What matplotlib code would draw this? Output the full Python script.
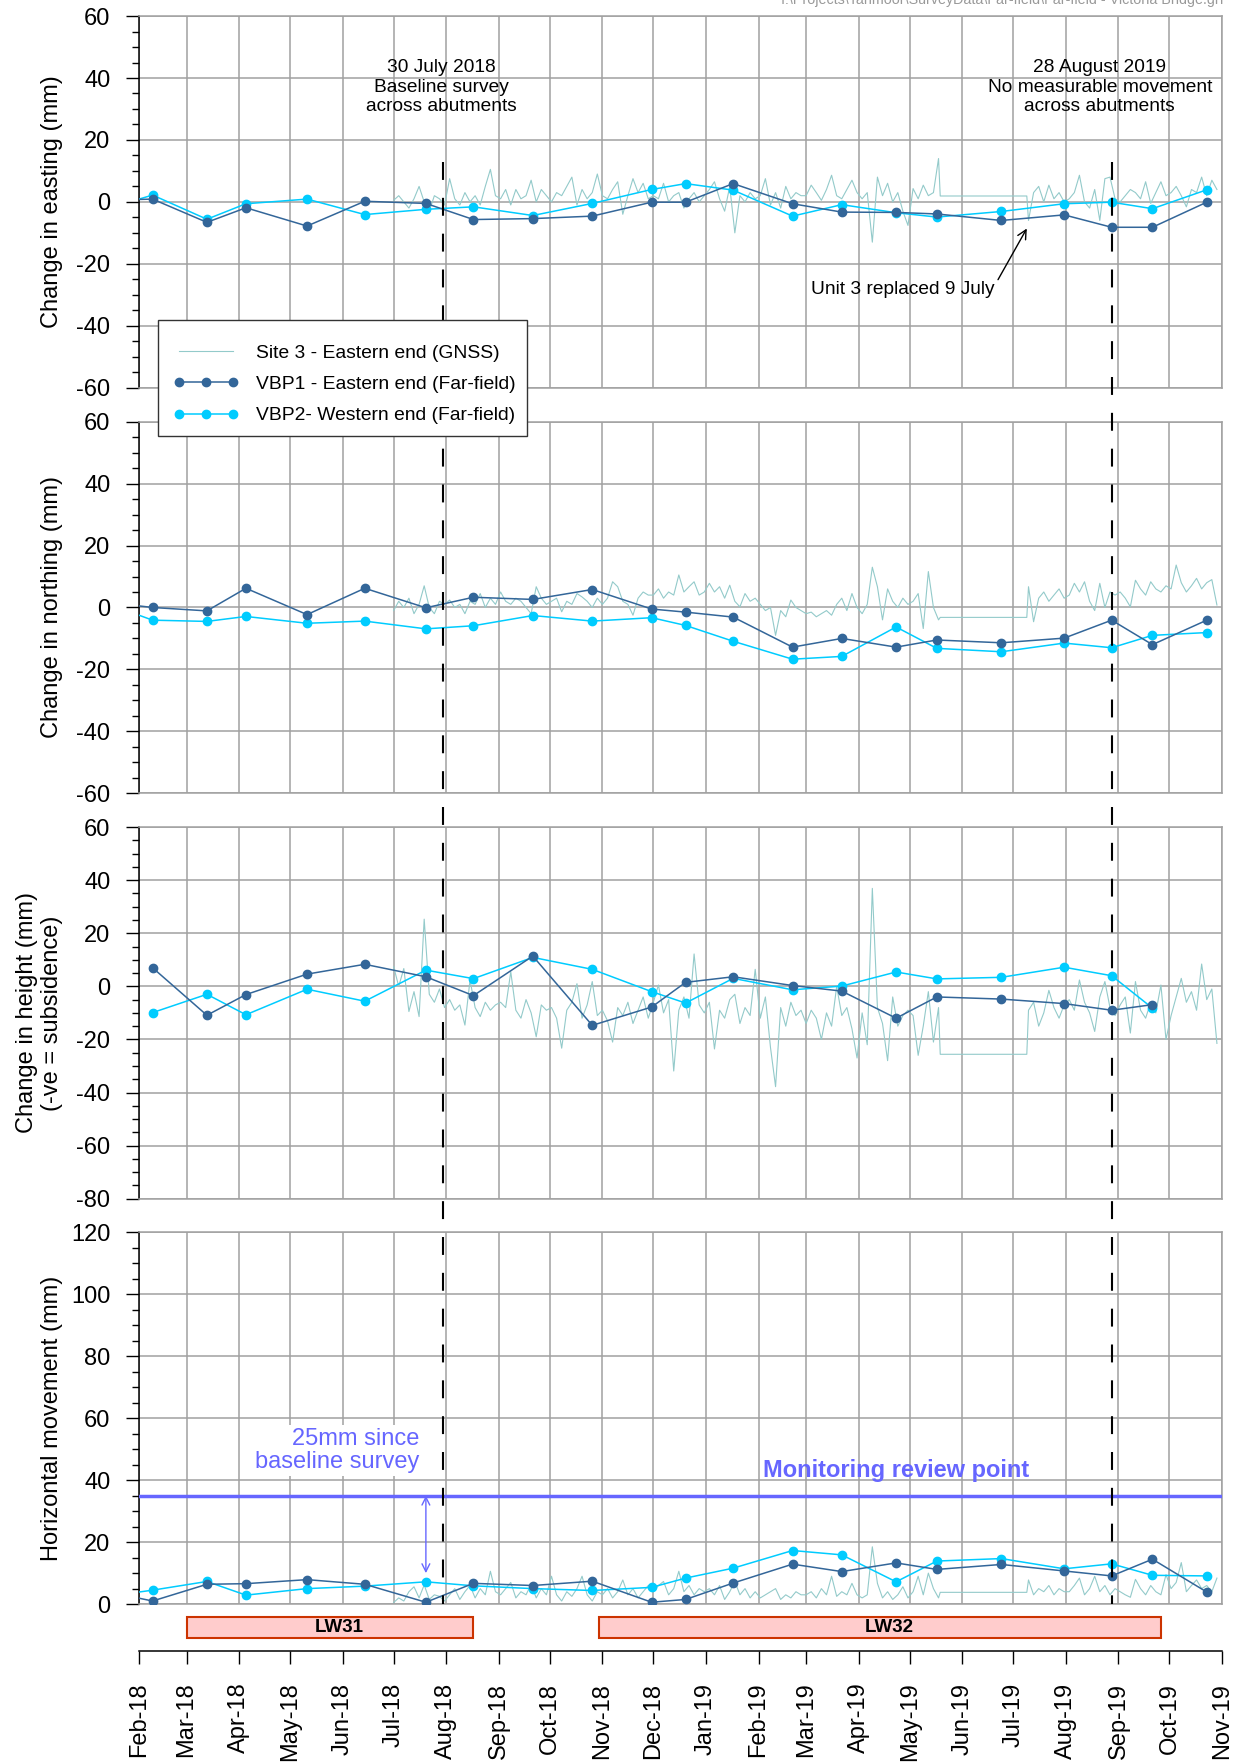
import numpy as np
import pandas as pd
import matplotlib
matplotlib.use('Agg')
import matplotlib.pyplot as plt
import matplotlib.dates as mdates
from matplotlib.lines import Line2D
from matplotlib.patches import Rectangle
from matplotlib.ticker import MultipleLocator
from matplotlib.transforms import blended_transform_factory

plt.rcParams['font.family'] = ['Liberation Sans', 'DejaVu Sans']
plt.rcParams['axes.unicode_minus'] = False

# Far-field survey dates (first one sits before the plotted window)
survey_dates = pd.to_datetime([
    '2018-01-10', '2018-02-09', '2018-03-13', '2018-04-05', '2018-05-11',
    '2018-06-14', '2018-07-20', '2018-08-17', '2018-09-21', '2018-10-26',
    '2018-11-30', '2018-12-20', '2019-01-17', '2019-02-21', '2019-03-22',
    '2019-04-23', '2019-05-17', '2019-06-24', '2019-07-31', '2019-08-28',
    '2019-09-21', '2019-10-23'])

vbp1_east = [0.5, 0.9, -6.6, -1.9, -7.8, 0.2, -0.5, -5.7, -5.4, -4.6, -0.1,
             -0.1, 5.9, -0.6, -3.3, -3.4, -3.9, -6.0, -4.2, -8.2, -8.2, -0.1]
vbp2_east = [-2.7, 2.2, -5.6, -0.6, 0.9, -4.1, -2.4, -1.6, -4.4, -0.5, 4.0,
             5.9, 3.8, -4.6, -0.9, -3.5, -4.9, -3.1, -0.6, -0.1, -2.2, 3.9]

vbp1_north = [1.9, 0.0, -1.1, 6.2, -2.3, 6.2, -0.1, 3.3, 2.6, 5.8, -0.5,
              -1.5, -3.1, -12.8, -10.0, -12.8, -10.5, -11.4, -9.9, -4.1, -12.0, -4.1]
vbp2_north = [1.9, -4.1, -4.5, -2.9, -5.1, -4.4, -6.9, -5.9, -2.6, -4.4, -3.3,
              -5.8, -10.9, -16.7, -15.8, -6.3, -13.2, -14.3, -11.5, -13.0, -9.0, -8.1]

vbp1_height = [np.nan, 7.0, -10.9, -3.1, 4.6, 8.3, 3.6, -3.5, 11.4, -14.7, -7.8,
               1.5, 3.6, 0.3, -1.8, -12.0, -4.0, -4.8, -6.5, -9.0, -6.9, np.nan]
vbp2_height = [np.nan, -9.9, -3.0, -10.7, -1.1, -5.6, 6.1, 2.9, 10.9, 6.4, -2.0,
               -6.3, 3.0, -1.3, 0.1, 5.4, 2.8, 3.4, 7.2, 4.0, -8.2, np.nan]

vbp1_horiz = [4.4, 1.0, 6.4, 6.6, 7.9, 6.4, 0.6, 6.7, 6.0, 7.4, 0.6,
              1.5, 6.8, 12.9, 10.5, 13.3, 11.2, 12.8, 10.7, 9.1, 14.5, 3.9]
vbp2_horiz = [2.25, 4.5, 7.3, 2.9, 5.0, 5.8, 7.2, 5.9, 5.0, 4.4, 5.4,
              8.4, 11.6, 17.3, 15.9, 7.2, 13.9, 14.7, 11.4, 13.0, 9.3, 9.1]

# GNSS Site 3, sampled every 3 days; unit offline between the two blocks
gnss_start_a = '2018-07-01'
gnss_gap_dates = ['2019-05-19', '2019-07-09']
gnss_start_b = '2019-07-10'

gnss_east_a = [0.5, 2, 0, -2, 1, 5, 0, -3, 2, 1, -1,
               7.5, 1, -1, 3, 0, 2, -1, 5, 10.5, 2,
               1, 4, -1, 4, 1, 2, 7, 0, 4, 2,
               0, 3, 2, 5, 8, -1, 4, 1, 3, 9,
               2, 1, 4, 6.5, -4, 2, 7.5, 3, 6, 1,
               2, 1, 6, 0, 2, 3, -2, 1, 3, 0, 2,
               4, 6.5, 1, -3, 5, -10, 2, 0, 3, 1,
               2, 7.5, -1, 3, -2, 5, 1, 3, 2,
               2, 5.4, 3, 0.5, 4, 8.6, 2, 1, 4, 7, 3,
               1, 3, -13, 8, 2, 6, 0, 3, -3, -7.6,
               4.3, 1, 5.4, 2, 3, 14]
gnss_east_gap = 1.9
gnss_east_b = [-6, 3, 5, 0, 5.4, 1, 3, 0,
               1, 3, 8.6, 0, -2, 4, -6, 7.5, 8, 1,
               0, 2, 4, 3, 1, 6.5, -0.5, 3, 6.5, 2,
               3, 5, 2, -1.6, 4, 3, 8, 2, 7, 4]

gnss_north_a = [-1, 2, 0, 3, -2, 1, 7, 0, -2, 2, 1,
                2.4, 0, 1, -2, 2, 1, 4.5, 0, 3, 1,
                5, 2, 1, 3, 2, 0, -2, 6.7, 3, 1,
                2, 3, -1.4, 2, 1, 4.5, 3.4, 2, 0, 3,
                1, 3, 8.3, 6.7, 2, 1, -2.5, 3, 5, 4,
                4, 6, 3, 5, 4, 10.5, 5, 6.7, 8.3, 4, 5,
                7.8, 5, 6.7, 3, 7.2, 2, 0.2, 4.5, 2, 3,
                1, -1, 0, -9, -1, -3, 2.4, 0, -1,
                -2, -1.5, -3, -2, -1, -2.5, 1, 3, -1, 4.5, 0,
                -2, 1, 13, 6.7, -4, 6, 2, 0, 3, 1,
                2, 4.5, -6.8, 11.6, 0, -4]
gnss_north_gap = -3.2
gnss_north_b = [6.7, -4.6, 3, 5, 2, 4, 6, 3,
                4, 7.8, 5, 8.3, 2, -1, 7.8, 0, 5, 4,
                5, 3, 0.2, 8.8, 6, 4, 8.3, 6, 5, 7,
                6, 13.7, 8, 5, 7, 9.4, 6, 8, 9, 0.8]

gnss_height_a = [7.4, 0, 6.7, -9.5, -2, -11.4, 25.3, -3, -6, -1, -8,
                 -5, -9, -7, -14.6, 2.4, -8, -11.4, -6, -9, -7,
                 -6, -8, 5.5, -9, -12, -5, -10, -19, -7, -9,
                 -8, -12, -23.3, -9, -6, 1, -12, -7, 1.8, -11,
                 -9, -13, -21, -8, -11, -6, -14, -9, -4, -12,
                 -6, 0.5, -10, -5, -31.9, -9, -4, -12, 12.2, -7, -10,
                 -6, -23.6, -9, -12, -5, -3, -14, -8, -11, 6.4,
                 -12, -4, -23, -37.8, -8, -15, -6, -11, -9,
                 -14, -9, -12, -20, -10, -15, 0, -11, -8, -16, -27,
                 -10, -22, 36.9, -8, -14, -28, -4, -15, -11, -9,
                 -11, -26, -15, -2, -21, -8]
gnss_height_gap = -25.6
gnss_height_b = [-9, -6, -15, -10, -1.5, -8, -12, -7,
                 -5, -9, 2.4, -6, -10, -17, -4, 1.8, -8, -11,
                 -7, -4, -17.6, 1.8, -9, -12, -6, -10, 0.5, -20,
                 -11, -4, 3, -6, -2, -9, 8.4, -5, -1, -21.5]

gnss_horiz_a = [0.5, 2, 1, 4, 5.6, 2, 6.2, 1.5, 3, 2.5, 1,
                3, 5, 1.5, 4, 6, 2, 5, 3, 10.6, 4,
                3, 5, 7, 2, 4, 3, 6.4, 2, 5, 3,
                9, 3, 1, 4, 2.5, 5, 9, 3, 1, 4,
                3, 5, 2, 4, 7.8, 3, 5, 2, 4, 6,
                4, 6, 7.3, 3, 5, 10.6, 4, 6, 3, 5, 4,
                5, 3, 6, 1.5, 4, 7.3, 3, 5, 2, 4,
                2, 3, 4, 5, 1.5, 3, 2, 4, 3,
                3, 4, 2, 5, 3, 9, 2.5, 4, 3, 6.7, 3,
                2, 3, 18.5, 6.7, 2, 4, 1.5, 3, 5.6, 2,
                4, 9, 3, 10, 5, 2]
gnss_horiz_gap = 3.8
gnss_horiz_b = [7.8, 3, 5, 4, 6, 3, 5, 4,
                4, 6, 8.4, 3, 5, 9, 4, 6, 3, 5,
                4, 3, 2.2, 8, 5, 3, 6, 4, 3, 9.5,
                5, 7, 13.4, 4, 6, 7.8, 5, 6, 4, 8.4]

# Longwall extraction periods
longwalls = ['LW31', 'LW32']
lw_start = pd.to_datetime(['2018-03-01', '2018-10-30'])
lw_end = pd.to_datetime(['2018-08-17', '2019-09-26'])

baseline_date = pd.Timestamp('2018-07-30')
check_date = pd.Timestamp('2019-08-28')
review_level = 35
x_min, x_max = pd.Timestamp('2018-02-01'), pd.Timestamp('2019-11-01')


def gnss_series(vals_a, gap_val, vals_b):
    d_a = pd.date_range(gnss_start_a, periods=len(vals_a), freq='3D')
    d_b = pd.date_range(gnss_start_b, periods=len(vals_b), freq='3D')
    dates = d_a.append(pd.DatetimeIndex(gnss_gap_dates)).append(d_b)
    return dates, list(vals_a) + [gap_val, gap_val] + list(vals_b)


C_GNSS = '#93CACA'
C_VBP1 = '#336699'
C_VBP2 = '#00CCFF'
C_GRID = '#A0A0A0'
C_REVIEW = '#6666FF'
W, H = 1240, 1763

fig = plt.figure(figsize=(12.4, 17.63), dpi=100)
left, width = 0.1121, 0.8734
panel_specs = [
    (0.78009, gnss_series(gnss_east_a, gnss_east_gap, gnss_east_b), vbp1_east, vbp2_east,
     (-60, 60), 'Change in easting (mm)'),
    (0.55003, gnss_series(gnss_north_a, gnss_north_gap, gnss_north_b), vbp1_north, vbp2_north,
     (-60, 60), 'Change in northing (mm)'),
    (0.32008, gnss_series(gnss_height_a, gnss_height_gap, gnss_height_b), vbp1_height, vbp2_height,
     (-80, 60), 'Change in height (mm)\n(-ve = subsidence)'),
    (0.09013, gnss_series(gnss_horiz_a, gnss_horiz_gap, gnss_horiz_b), vbp1_horiz, vbp2_horiz,
     (0, 120), 'Horizontal movement (mm)'),
]

axes = []
for bottom, (g_dates, g_vals), v1, v2, ylim, ylabel in panel_specs:
    ax = fig.add_axes([left, bottom, width, 0.2108], sharex=axes[0] if axes else None)
    g_line, = ax.plot(g_dates, g_vals, color=C_GNSS, lw=0.8, zorder=2)
    v2_line, = ax.plot(survey_dates, v2, color=C_VBP2, lw=1.1, marker='o', ms=6, zorder=3)
    v1_line, = ax.plot(survey_dates, v1, color=C_VBP1, lw=1.1, marker='o', ms=6, zorder=4)
    ax.set_ylim(*ylim)
    ax.yaxis.set_major_locator(MultipleLocator(20))
    ax.yaxis.set_minor_locator(MultipleLocator(5))
    ax.tick_params(axis='y', which='major', direction='out', length=9.7, width=1,
                   labelsize=17, pad=11)
    ax.tick_params(axis='y', which='minor', direction='out', length=4.8, width=1)
    ax.tick_params(axis='x', which='both', length=0, labelbottom=False)
    ax.grid(True, which='major', color=C_GRID, lw=1.1)
    ax.set_axisbelow(True)
    for side in ('top', 'right', 'bottom'):
        ax.spines[side].set_color(C_GRID)
        ax.spines[side].set_linewidth(1.1)
    ax.spines['left'].set_color('black')
    ax.spines['left'].set_linewidth(1.1)
    ax.set_ylabel(ylabel, fontsize=17)
    ax.yaxis.set_label_coords(-0.070, 0.5)
    axes.append(ax)

ax1, ax2, ax3, ax4 = axes
ax1.xaxis.set_major_locator(mdates.MonthLocator())
ax1.set_xlim(x_min, x_max)

# Date axis with longwall bars
ax5 = fig.add_axes([left, 0.06347, width, 0.02666], sharex=ax1)
ax5.set_ylim(0, 47)
ax5.patch.set_alpha(0)
for side in ('top', 'left', 'right'):
    ax5.spines[side].set_visible(False)
ax5.spines['bottom'].set_linewidth(1.1)
ax5.set_yticks([])
ax5.xaxis.set_major_formatter(mdates.DateFormatter('%b-%y'))
ax5.tick_params(axis='x', which='major', direction='out', length=9.7, width=1,
                pad=13, labelsize=17, labelrotation=90, labelbottom=True)
for name, s, e in zip(longwalls, lw_start, lw_end):
    s_num, e_num = mdates.date2num(s), mdates.date2num(e)
    ax5.barh(23.5, e_num - s_num, left=s_num, height=21, color='#FFCCCC',
             edgecolor='#CC3300', lw=1.5)
    ax5.annotate(name, xy=((s_num + e_num) / 2, 23.5), xytext=(7, 0),
                 textcoords='offset points', ha='center', va='center',
                 fontsize=13.5, fontweight='bold')

# Event markers running through all panels
trans = blended_transform_factory(ax4.transData, fig.transFigure)
for d in (baseline_date, check_date):
    x = mdates.date2num(d)
    fig.add_artist(Line2D([x, x], [0.9081, 0.09013], transform=trans, color='black',
                          lw=1.5, linestyle=(0, (8.6, 8.6)), zorder=10))

ax1.text(pd.Timestamp('2018-07-29'), 37, '30 July 2018\nBaseline survey\nacross abutments',
         ha='center', va='center', fontsize=13.8)
ax1.text(pd.Timestamp('2019-08-21'), 37, '28 August 2019\nNo measurable movement\nacross abutments',
         ha='center', va='center', fontsize=13.8)
ax1.annotate('Unit 3 replaced 9 July', xy=(pd.Timestamp('2019-07-09'), -8.6),
             xytext=(pd.Timestamp('2019-06-20'), -28.2), ha='right', va='center', fontsize=13.8,
             arrowprops=dict(arrowstyle='->', color='black', lw=1, relpos=(1, 0.7),
                             shrinkA=1, shrinkB=0, mutation_scale=16))

ax4.axhline(review_level, color=C_REVIEW, lw=2.5, zorder=5)
ax4.text(pd.Timestamp('2019-04-23'), 41.2, 'Monitoring review point', color=C_REVIEW,
         fontweight='bold', fontsize=17, ha='center', va='baseline', zorder=6)
ax4.text(pd.Timestamp('2018-07-16'), 49.6, '25mm since\nbaseline survey', color=C_REVIEW,
         fontsize=17, ha='right', va='center', linespacing=1.1, zorder=6,
         bbox=dict(facecolor='white', edgecolor='none', pad=2))
ax4.annotate('', xy=(pd.Timestamp('2018-07-20'), 10), xytext=(pd.Timestamp('2018-07-20'), review_level),
             arrowprops=dict(arrowstyle='<->', color=C_REVIEW, lw=1, shrinkA=0, shrinkB=0,
                             mutation_scale=14))

# Legend: frame drawn separately so its padding can be set freely
fig.add_artist(Rectangle((158.5 / W, 1 - 436.5 / H), (527 - 158.5) / W, (436.5 - 320.5) / H,
                         transform=fig.transFigure, facecolor='white', edgecolor='#333333',
                         lw=1, zorder=19))
leg = fig.legend([g_line, v1_line, v2_line],
                 ['Site 3 - Eastern end (GNSS)', 'VBP1 - Eastern end (Far-field)',
                  'VBP2- Western end (Far-field)'],
                 loc='upper left', bbox_to_anchor=(173 / W, 1 - 344 / H), fontsize=13.9,
                 frameon=False, handlelength=3.4, numpoints=3, borderpad=0,
                 labelspacing=0.72, handletextpad=0.88, borderaxespad=0)
leg.set_zorder(20)

fig.text(781 / W, 1.0, r'I:\Projects\Tahmoor\SurveyData\Far-field\Far-field - Victoria Bridge.grf',
         color='#999999', fontsize=10.3, ha='left', va='center')

fig.savefig('out.png', dpi=100)
